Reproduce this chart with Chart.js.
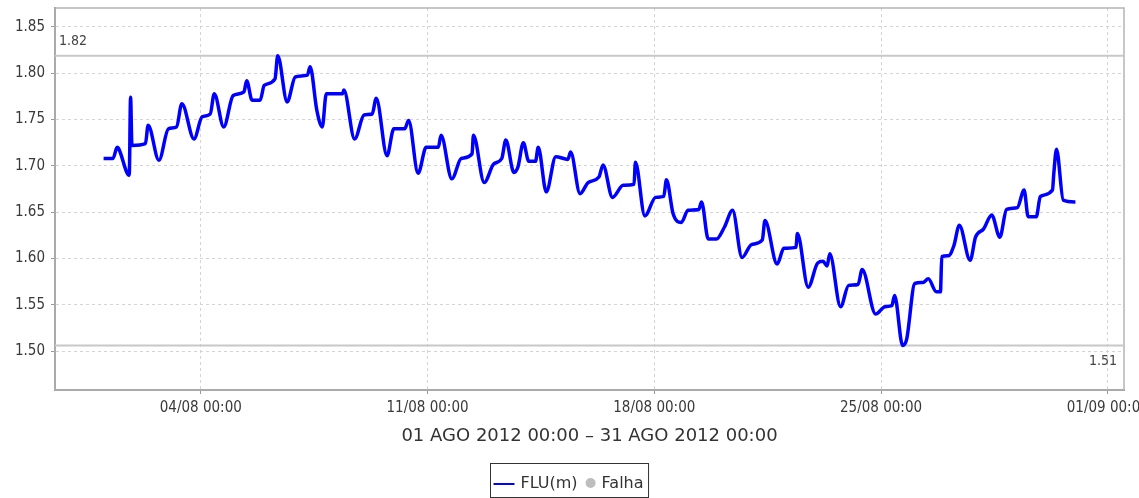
<!DOCTYPE html>
<html lang="pt">
<head>
    <meta charset="UTF-8">
    <title>FLU(m) - Agosto 2012</title>
    <script src="https://cdn.jsdelivr.net/npm/chart.js"></script>
    <style>
        body {
            margin: 0;
            background-color: #ffffff;
        }

        #chartContainer {
            width: 1139px;
            height: 498px;
            position: relative;
        }
    </style>
</head>
<body>
<div id="chartContainer">
    <canvas id="fluChart"></canvas>
</div>
<script>
    // horas desde 01/08/2012 00:00
    const hours = [
        0, 7, 10, 11, 19, 20, 21, 31, 33, 41,
        48, 54, 58, 67, 73, 79, 82, 89, 96, 104,
        106, 110, 116, 119, 127, 129, 136, 142, 151, 153,
        158, 162, 165, 177, 178, 186, 193, 199, 202, 210,
        215, 223, 226, 233, 239, 248, 250, 258, 265, 273,
        274, 282, 289, 295, 298, 304, 307, 311, 315, 320,
        322, 328, 335, 344, 346, 353, 359, 367, 370, 377,
        385, 393, 394, 401, 409, 415, 417, 422, 428, 433,
        441, 443, 448, 454, 460, 466, 473, 480, 488, 490,
        499, 504, 513, 514, 522, 529, 533, 536, 538, 546,
        552, 559, 562, 572, 579, 584, 586, 592, 595, 601,
        607, 611, 617, 620, 621, 626, 630, 634, 642, 646,
        652, 658, 664, 669, 677, 682, 685, 691, 694, 703,
        704, 706, 711, 720
    ];

    // nível FLU em metros
    const flu = [
        1.708, 1.708, 1.720, 1.719, 1.690, 1.774, 1.722, 1.724, 1.744, 1.706,
        1.740, 1.742, 1.767, 1.729, 1.753, 1.756, 1.778, 1.742, 1.776, 1.780,
        1.792, 1.771, 1.771, 1.787, 1.794, 1.819, 1.769, 1.796, 1.798, 1.807,
        1.760, 1.742, 1.778, 1.778, 1.782, 1.729, 1.755, 1.756, 1.773, 1.711,
        1.740, 1.740, 1.749, 1.692, 1.720, 1.720, 1.733, 1.686, 1.708, 1.713,
        1.733, 1.682, 1.702, 1.708, 1.728, 1.693, 1.699, 1.725, 1.705, 1.705,
        1.720, 1.672, 1.710, 1.707, 1.715, 1.670, 1.682, 1.688, 1.701, 1.666,
        1.679, 1.680, 1.704, 1.646, 1.666, 1.667, 1.685, 1.648, 1.639, 1.652,
        1.653, 1.661, 1.621, 1.621, 1.634, 1.652, 1.601, 1.615, 1.620, 1.641,
        1.594, 1.611, 1.612, 1.627, 1.569, 1.595, 1.597, 1.592, 1.605, 1.548,
        1.571, 1.572, 1.588, 1.540, 1.548, 1.549, 1.560, 1.506, 1.513, 1.573,
        1.574, 1.578, 1.564, 1.564, 1.602, 1.603, 1.614, 1.636, 1.598, 1.623,
        1.632, 1.647, 1.623, 1.653, 1.655, 1.674, 1.645, 1.645, 1.667, 1.674,
        1.692, 1.718, 1.663, 1.661
    ];

    const xTickHours = [72, 240, 408, 576, 744];
    const xTickLabels = ['04/08 00:00', '11/08 00:00', '18/08 00:00', '25/08 00:00', '01/09 00:00'];
    const yTickValues = [1.50, 1.55, 1.60, 1.65, 1.70, 1.75, 1.80, 1.85];
    const periodLabel = '01 AGO 2012 00:00 \u2013 31 AGO 2012 00:00';

    const tickFont = { family: "'DejaVu Sans Condensed', 'Liberation Sans Narrow', 'DejaVu Sans', sans-serif", size: 15 };

    // linhas de máximo e mínimo com o valor
    const minMaxPlugin = {
        id: 'minMax',
        beforeDatasetsDraw(chart) {
            const { ctx, chartArea, scales } = chart;
            const values = chart.data.datasets[0].data.map(p => p.y);
            const maxV = Math.max(...values);
            const minV = Math.min(...values);
            const yMax = scales.y.getPixelForValue(maxV);
            const yMin = scales.y.getPixelForValue(minV);

            ctx.save();
            // moldura
            ctx.strokeStyle = '#b4b4b4';
            ctx.lineWidth = 1.5;
            ctx.strokeRect(chartArea.left, chartArea.top, chartArea.right - chartArea.left, chartArea.bottom - chartArea.top);

            ctx.strokeStyle = '#c8c8c8';
            ctx.lineWidth = 2;
            ctx.beginPath();
            ctx.moveTo(chartArea.left, yMax);
            ctx.lineTo(chartArea.right, yMax);
            ctx.moveTo(chartArea.left, yMin);
            ctx.lineTo(chartArea.right, yMin);
            ctx.stroke();

            ctx.fillStyle = '#444';
            ctx.font = tickFont.size - 1 + 'px ' + tickFont.family;
            ctx.textBaseline = 'middle';
            ctx.textAlign = 'left';
            ctx.fillText(maxV.toFixed(2), chartArea.left + 4, yMax - 14);
            ctx.textAlign = 'right';
            ctx.fillText(minV.toFixed(2), chartArea.right - 7, yMin + 16);
            ctx.restore();
        }
    };

    // legenda com caixa
    const boxLegendPlugin = {
        id: 'boxLegend',
        afterDraw(chart) {
            const { ctx, width } = chart;
            const sets = chart.data.datasets;
            ctx.save();
            ctx.font = "16px 'DejaVu Sans', sans-serif";
            const w1 = ctx.measureText(sets[0].label).width;
            const w2 = ctx.measureText(sets[1].label).width;
            const boxW = 3 + 21 + 6 + w1 + 8 + 10 + 6 + w2 + 5;
            const boxX = Math.round(width / 2 - boxW / 2) + 0.5;
            const boxY = 463.5;
            const midY = 484;

            ctx.strokeStyle = '#333';
            ctx.lineWidth = 1;
            ctx.strokeRect(boxX, boxY, boxW, 34);

            let x = boxX + 3;
            ctx.strokeStyle = sets[0].borderColor;
            ctx.lineWidth = 2;
            ctx.beginPath();
            ctx.moveTo(x, midY);
            ctx.lineTo(x + 21, midY);
            ctx.stroke();
            x += 27;

            ctx.fillStyle = '#333';
            ctx.textBaseline = 'middle';
            ctx.textAlign = 'left';
            ctx.fillText(sets[0].label, x, midY);
            x += w1 + 8;

            ctx.fillStyle = sets[1].backgroundColor;
            ctx.beginPath();
            ctx.arc(x + 5, midY - 1, 5, 0, Math.PI * 2);
            ctx.fill();
            x += 16;

            ctx.fillStyle = '#333';
            ctx.fillText(sets[1].label, x, midY);
            ctx.restore();
        }
    };

    const ctx = document.getElementById('fluChart').getContext('2d');
    new Chart(ctx, {
        type: 'line',
        data: {
            datasets: [{
                label: 'FLU(m)',
                data: hours.map((h, i) => ({ x: h, y: flu[i] })),
                borderColor: '#0000ff',
                backgroundColor: '#0000ff',
                borderWidth: 3.5,
                pointRadius: 0,
                cubicInterpolationMode: 'monotone',
                fill: false
            }, {
                label: 'Falha',
                data: [],
                borderColor: '#bdbdbd',
                backgroundColor: '#bdbdbd',
                pointStyle: 'circle',
                showLine: false
            }]
        },
        options: {
            responsive: true,
            maintainAspectRatio: false,
            animation: false,
            layout: { padding: { top: 8, right: 15, bottom: 50, left: 0 } },
            scales: {
                x: {
                    type: 'linear',
                    min: -36,
                    max: 756,
                    afterBuildTicks: scale => { scale.ticks = xTickHours.map(v => ({ value: v })); },
                    afterFit: scale => {
                        scale.height = 58;
                        scale.paddingLeft = 0;
                        scale.paddingRight = 0;
                    },
                    grid: { color: '#d4d4d4', tickColor: '#999', tickLength: 4, lineWidth: 1 },
                    border: { color: '#8c8c8c', width: 2, dash: [3, 3] },
                    ticks: {
                        color: '#3a3a3a',
                        font: tickFont,
                        padding: 5,
                        maxRotation: 0,
                        callback: value => xTickLabels[xTickHours.indexOf(value)]
                    },
                    title: {
                        display: true,
                        text: periodLabel,
                        color: '#333',
                        font: { family: "'DejaVu Sans', sans-serif", size: 18 },
                        padding: { top: 0, bottom: 1 }
                    }
                },
                y: {
                    min: 1.458,
                    max: 1.8705,
                    afterBuildTicks: scale => { scale.ticks = yTickValues.map(v => ({ value: v })); },
                    afterFit: scale => {
                        scale.width = 55;
                        scale.paddingTop = 0;
                        scale.paddingBottom = 0;
                    },
                    grid: { color: '#d4d4d4', tickColor: '#999', tickLength: 4, lineWidth: 1 },
                    border: { color: '#8c8c8c', width: 2, dash: [3, 3] },
                    ticks: {
                        color: '#3a3a3a',
                        font: tickFont,
                        padding: 6,
                        callback: value => value.toFixed(2)
                    }
                }
            },
            plugins: {
                legend: { display: false },
                tooltip: { enabled: false }
            }
        },
        plugins: [minMaxPlugin, boxLegendPlugin]
    });
</script>
</body>
</html>
